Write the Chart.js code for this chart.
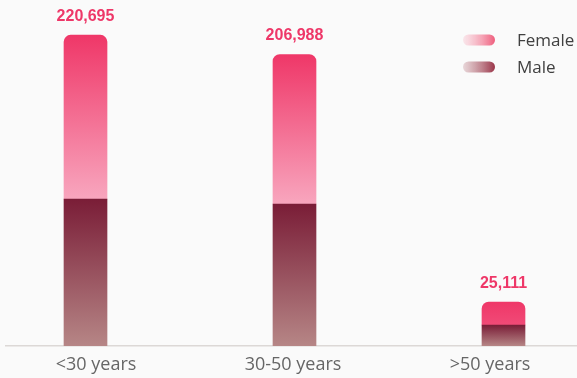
<!DOCTYPE html>
<html>
<head>
<meta charset="utf-8">
<script src="https://cdn.jsdelivr.net/npm/chart.js@4.4.1/dist/chart.umd.min.js"></script>
<style>
  html, body { margin: 0; padding: 0; background: #fafafa; }
  #wrap { width: 577px; height: 378px; position: relative; }
</style>
</head>
<body>
<div id="wrap"><canvas id="ageChart"></canvas></div>
<script>
const categories = ['<30 years', '30-50 years', '>50 years'];
const maleValues = [104300, 100800, 14900];
const femaleValues = [116395, 106188, 16300];
const totalLabels = ['220,695', '206,988', '25,111'];

// gradient over one stacked segment, worked out from the y scale
function segmentGradient(context, from, to, topColor, bottomColor, minLen) {
    const chart = context.chart;
    const y = chart.scales.y;
    if (!chart.chartArea || !y || context.dataIndex === undefined) return topColor;
    const top = y.getPixelForValue(to[context.dataIndex]);
    let bottom = y.getPixelForValue(from[context.dataIndex]);
    bottom = Math.max(bottom, top + (minLen || 0));
    if (!isFinite(top) || !isFinite(bottom) || bottom - top < 1) return topColor;
    const g = chart.ctx.createLinearGradient(0, top, 0, bottom);
    g.addColorStop(0, topColor);
    g.addColorStop(1, bottomColor);
    return g;
}

const zeros = maleValues.map(() => 0);
const stackTops = maleValues.map((v, i) => v + femaleValues[i]);

const totalsPlugin = {
    id: 'totals',
    afterDatasetsDraw(chart) {
        const ctx = chart.ctx;
        const meta = chart.getDatasetMeta(1);
        ctx.save();
        ctx.font = 'bold 16px "Liberation Sans", Arial, sans-serif';
        ctx.fillStyle = '#ee3768';
        ctx.textAlign = 'center';
        ctx.textBaseline = 'alphabetic';
        meta.data.forEach((bar, i) => {
            ctx.fillText(totalLabels[i], bar.x, bar.y - 14);
        });
        ctx.restore();
    }
};

const legendPlugin = {
    id: 'pillLegend',
    afterDraw(chart) {
        const ctx = chart.ctx;
        const swatches = [
            { label: chart.data.datasets[1].label, from: 'rgba(248,170,188,0.25)', to: '#ee5d7c' },
            { label: chart.data.datasets[0].label, from: 'rgba(180,110,120,0.25)', to: '#9a3549' }
        ];
        ctx.save();
        ctx.font = '17px "Open Sans", "Noto Sans", sans-serif';
        ctx.textBaseline = 'middle';
        swatches.forEach((s, i) => {
            const x = 463, y = 40 + i * 27, w = 32, h = 11;
            const g = ctx.createLinearGradient(x, 0, x + w, 0);
            g.addColorStop(0, s.from);
            g.addColorStop(1, s.to);
            ctx.fillStyle = g;
            ctx.beginPath();
            ctx.roundRect(x, y - h / 2, w, h, h / 2);
            ctx.fill();
            ctx.fillStyle = '#404040';
            ctx.fillText(s.label, 517, y + 1);
        });
        ctx.restore();
    }
};

new Chart(document.getElementById('ageChart'), {
    type: 'bar',
    data: {
        datasets: [
            {
                label: 'Male',
                data: maleValues.map((v, i) => ({ x: i, y: v })),
                backgroundColor: (c) => segmentGradient(c, zeros, maleValues, '#7a1d37', '#b68686', 0),
                barThickness: 43,
                borderWidth: 0
            },
            {
                label: 'Female',
                data: femaleValues.map((v, i) => ({ x: i, y: v })),
                backgroundColor: (c) => segmentGradient(c, maleValues, stackTops, '#ef3768', '#f8a6be', 130),
                barThickness: 43,
                borderWidth: 0,
                borderSkipped: false,
                borderRadius: { topLeft: 7, topRight: 7, bottomLeft: 0, bottomRight: 0 }
            }
        ]
    },
    options: {
        responsive: true,
        maintainAspectRatio: false,
        animation: false,
        layout: { padding: { top: 8, left: 6, right: 0, bottom: 4 } },
        plugins: {
            legend: { display: false },
            tooltip: { enabled: false }
        },
        scales: {
            x: {
                type: 'linear',
                stacked: true,
                offset: false,
                weight: 0,
                min: -0.3804,
                max: 2.3517,
                grid: { display: false, drawTicks: false },
                border: { display: true, color: '#dcd8d6', width: 1.5 },
                ticks: { display: false },
                afterFit: (scale) => { scale.height = 0; }
            },
            // category labels sit on their own axis, spaced a little tighter than the bars
            xLabels: {
                type: 'linear',
                position: 'bottom',
                offset: false,
                weight: 1,
                min: -0.4569,
                max: 2.4416,
                grid: { display: false, drawTicks: false },
                border: { display: false },
                afterBuildTicks: (scale) => {
                    scale.ticks = categories.map((c, i) => ({ value: i }));
                },
                afterFit: (scale) => { scale.height = 28; },
                ticks: {
                    padding: 8,
                    color: '#666666',
                    font: { family: '"Open Sans", "Noto Sans", sans-serif', size: 18 },
                    callback: (v) => categories[v]
                }
            },
            y: {
                stacked: true,
                display: false,
                min: 0,
                max: 240000
            }
        }
    },
    plugins: [totalsPlugin, legendPlugin]
});
</script>
</body>
</html>
